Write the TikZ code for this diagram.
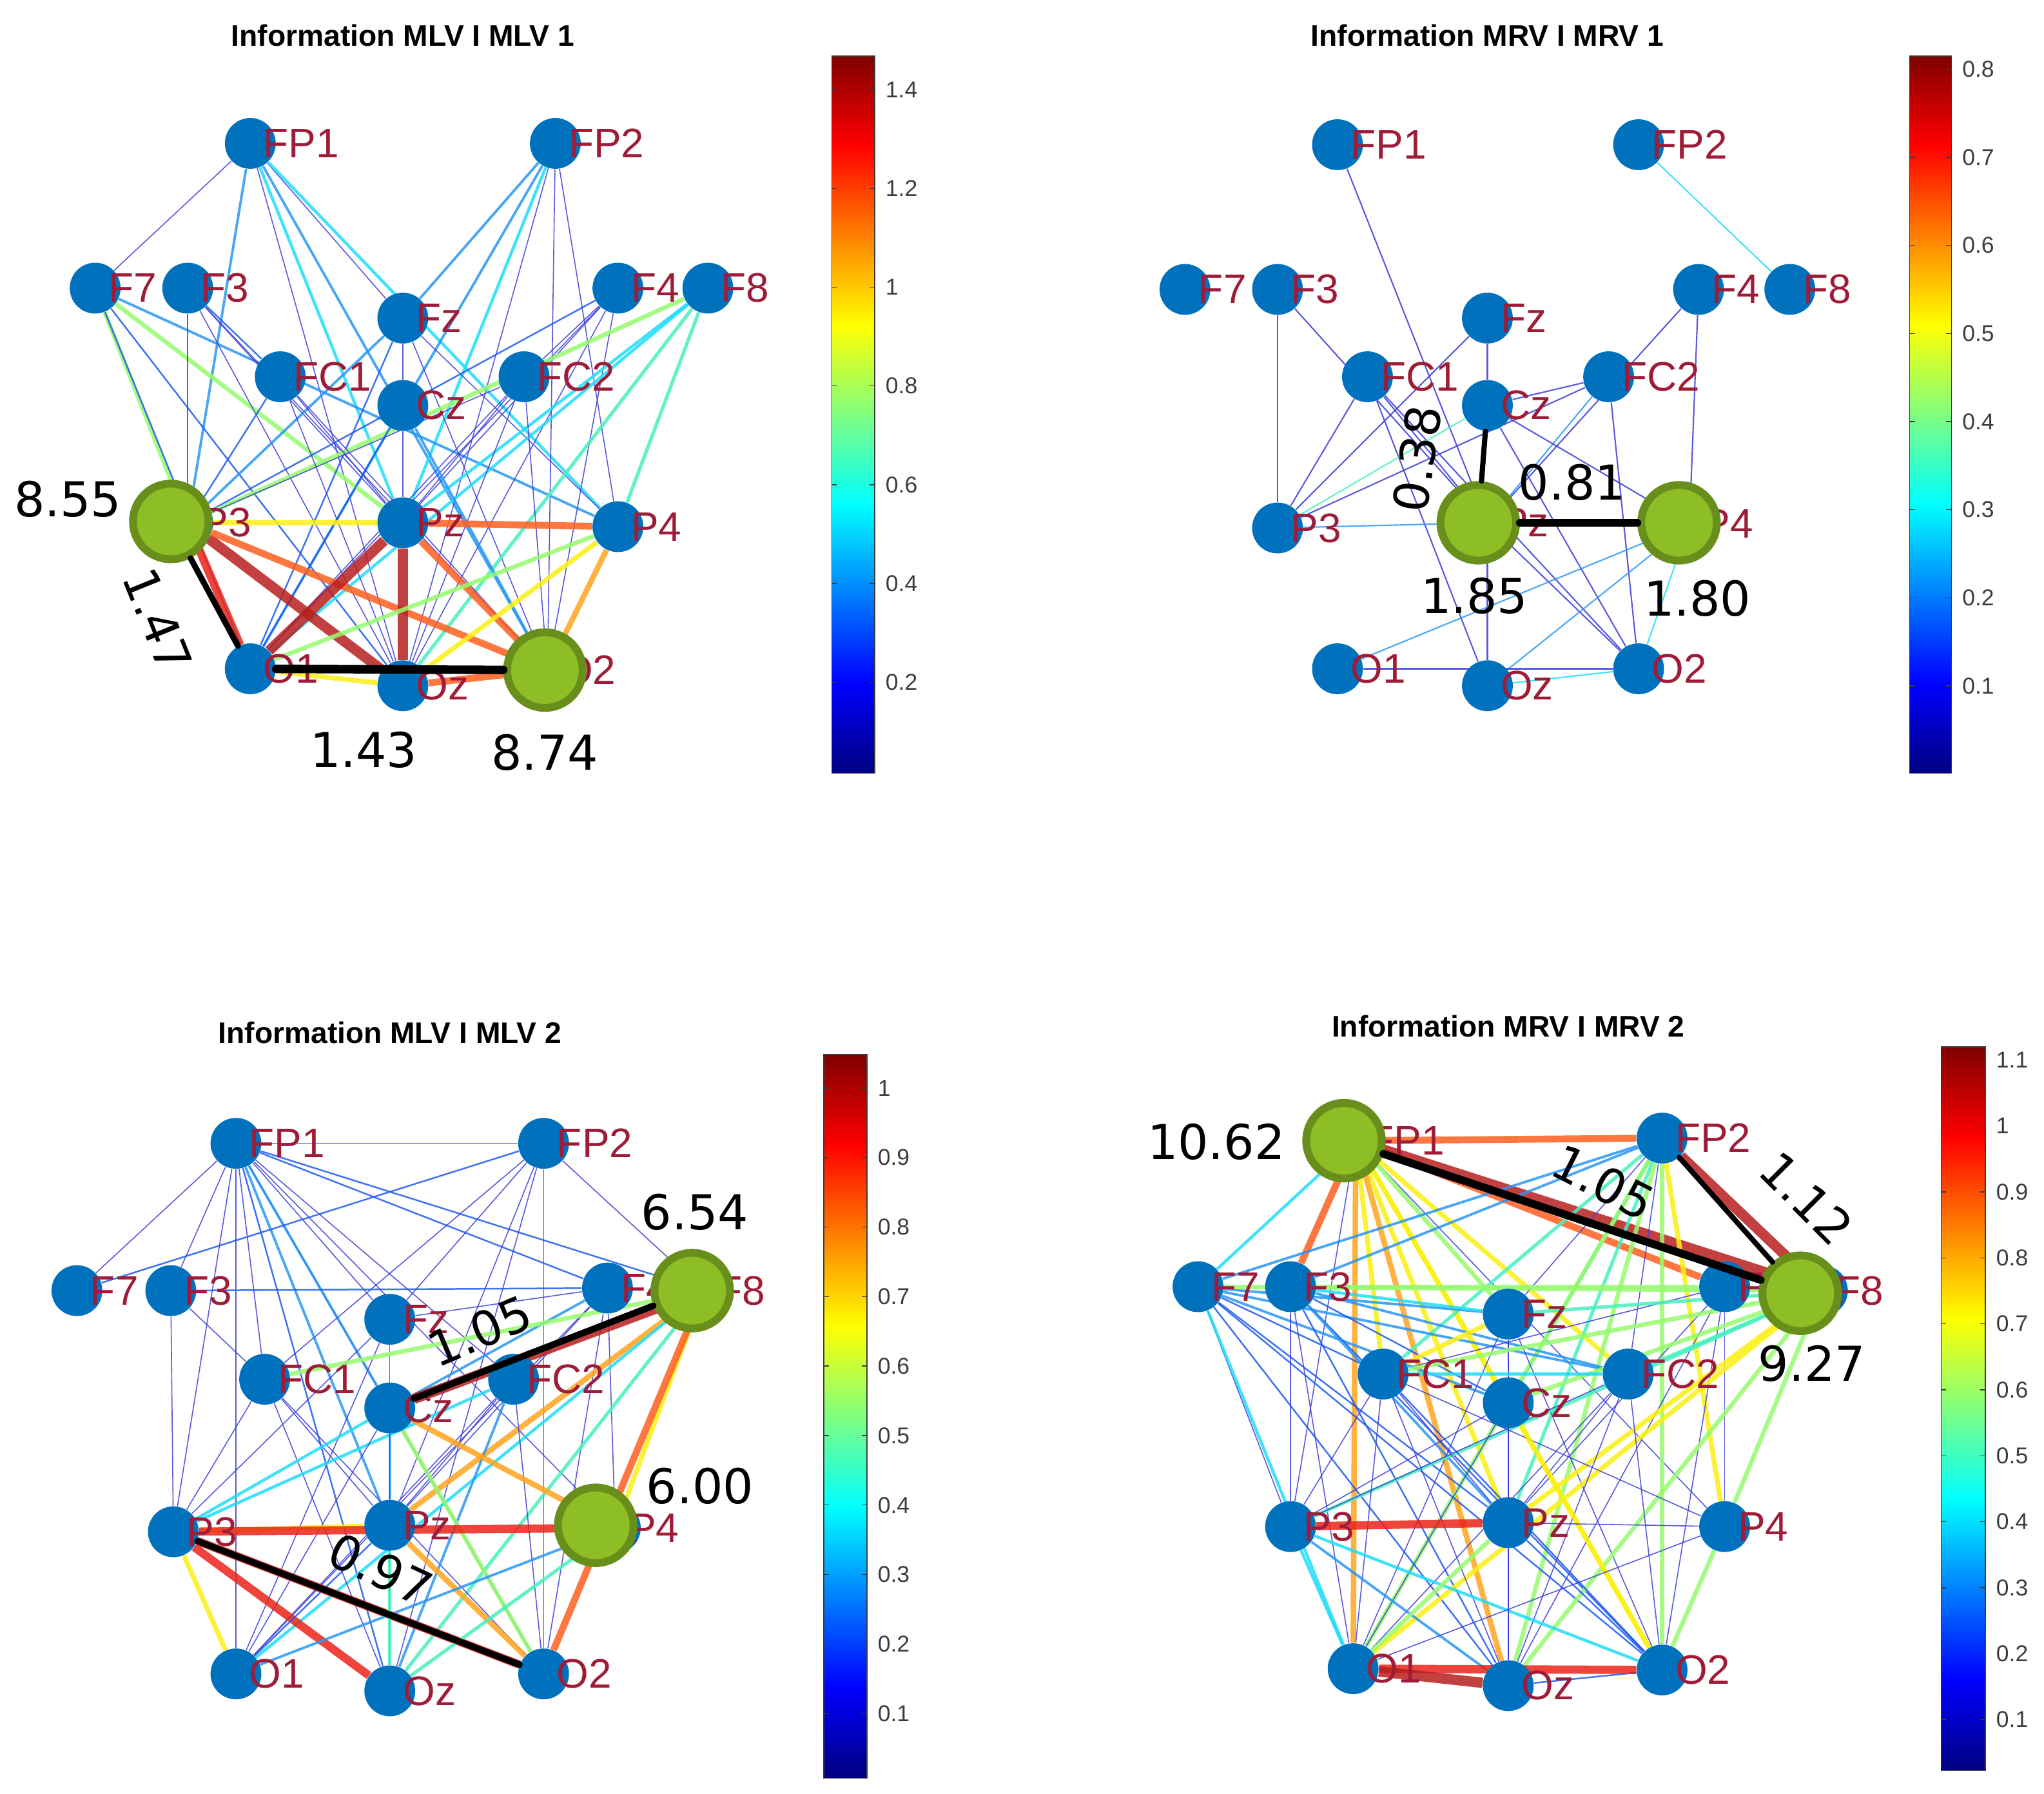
\documentclass[tikz,border=0pt]{standalone}
\usepackage{fontspec}
\setmainfont{Liberation Sans}
\newfontfamily\numfont{DejaVu Sans}
\usetikzlibrary{positioning}

\definecolor{nodeblue}{RGB}{0,114,189}
\definecolor{labred}{RGB}{158,28,56}
\definecolor{hlfill}{RGB}{141,190,37}
\definecolor{hlring}{RGB}{104,142,28}
\definecolor{tickgray}{RGB}{60,60,60}
\definecolor{cA}{RGB}{60,60,215}
\definecolor{cB}{RGB}{30,90,240}
\definecolor{cC}{RGB}{40,150,245}
\definecolor{cD}{RGB}{30,220,250}
\definecolor{cE}{RGB}{70,240,190}
\definecolor{cF}{RGB}{150,250,110}
\definecolor{cG}{RGB}{250,240,20}
\definecolor{cH}{RGB}{255,165,30}
\definecolor{cI}{RGB}{255,95,30}
\definecolor{cJ}{RGB}{235,35,25}
\definecolor{cK}{RGB}{185,30,30}
\pgfdeclareverticalshading{jet}{100bp}{rgb(0bp)=(0,0,0.5); rgb(25bp)=(0,0,0.5); rgb(31.25bp)=(0,0,1); rgb(43.75bp)=(0,1,1); rgb(56.25bp)=(1,1,0); rgb(68.75bp)=(1,0,0); rgb(75bp)=(0.5,0,0); rgb(100bp)=(0.5,0,0)}
\pgfdeclarelayer{edges}
\pgfsetlayers{edges,main}

\begin{document}
\begin{tikzpicture}[x=0.02cm, y=-0.02cm,
    elec/.style={circle, fill=nodeblue, inner sep=0pt, minimum size=0.78cm,
      label={[lab]0:#1}},
    lab/.style={text=labred, inner sep=0pt, xshift=-0.2cm, font=\fontsize{18}{18}\selectfont},
    hilite/.style={circle, fill=hlfill, draw=hlring, line width=0.12cm, inner sep=0pt, minimum size=1.16cm},
    strong/.style={draw=black, line width=#1, line cap=round},
    ttl/.style={font=\bfseries\fontsize{13}{13}\selectfont},
    val/.style={font=\numfont\fontsize{21}{21}\selectfont, inner sep=0pt},
    tck/.style={font=\fontsize{10}{10}\selectfont, text=tickgray, anchor=west, inner sep=0pt},
    cbar/.style={shading=jet, draw=tickgray, line width=0.4pt},
    eA/.style={draw=cA, line width=0.45pt},
    eB/.style={draw=cB, line width=0.7pt},
    eC/.style={draw=cC, line width=1.1pt},
    eD/.style={draw=cD, line width=1.3pt},
    eE/.style={draw=cE, line width=1.5pt},
    eF/.style={draw=cF, line width=1.9pt},
    eG/.style={draw=cG, line width=2.1pt},
    eH/.style={draw=cH, line width=2.4pt},
    eI/.style={draw=cI, line width=3pt},
    eJ/.style={draw=cJ, line width=3.6pt},
    eK/.style={draw=cK, line width=4.5pt}
  ]
\useasboundingbox (0,0) rectangle (1568,1376);

% MLV 1
\foreach \n/\x/\y in {FP1/192/110, FP2/426/110, F7/73/221, F3/144/221, Fz/309/244,
    F4/474/221, F8/543/221, FC1/215/289, FC2/402/289, Cz/309/311, P3/144/401,
    Pz/309/401, P4/474/404, O1/192/513, Oz/309/526, O2/420/514}
  \node[elec=\n] (a\n) at (\x,\y) {};
\begin{pgfonlayer}{edges}
\foreach \a/\b/\c in {FP1/F7/A, FP1/Fz/A, FP1/Oz/A, FP1/P3/C, FP1/Pz/D, FP1/O2/C, FP1/P4/D,
    FP2/Fz/C, FP2/Pz/D, FP2/O2/A, FP2/P4/A, FP2/Oz/A, FP2/O1/C,
    F7/P3/F, F7/Pz/F, F7/P4/C, F7/O1/B, F7/Oz/B,
    F3/P3/A, F3/FC1/B, F3/Pz/A, F3/Oz/A, F3/O2/A,
    Fz/Cz/A, Fz/P3/C, Fz/O1/B, Fz/O2/A, Fz/P4/A,
    F4/P3/B, F4/Pz/A, F4/O1/A, F4/Oz/A, F4/O2/A, F4/FC2/A,
    F8/P3/F, F8/Pz/D, F8/P4/E, F8/O1/D, F8/Oz/E,
    FC1/P3/B, FC1/Pz/A, FC1/O2/A, FC1/Oz/A,
    FC2/P3/A, FC2/O1/A, FC2/Pz/A, FC2/Oz/A, FC2/O2/A,
    Cz/Pz/A, Cz/O2/C, Cz/O1/B,
    P3/Pz/G, P3/Oz/K, P3/O2/I, P3/O1/J,
    Pz/P4/I, Pz/O1/K, Pz/Oz/K, Pz/O2/I,
    P4/O1/F, P4/Oz/G, P4/O2/H, O1/Oz/G, Oz/O2/I}
  \draw[e\c, draw opacity=0.85] (a\a) -- (a\b);
\end{pgfonlayer}
\node[hilite] (aP3h) at (131,400) {};
\node[hilite] (aO2h) at (418,514) {};
\draw[strong=0.09cm] (aP3h) -- (aO1);
\draw[strong=0.13cm] (aO1) -- (aO2h);
\node[val] (aV1) at (52,383) {8.55};
\node[val, rotate=-68] (aV2) at (121,476) {1.47};
\node[val] (aV3) at (279,575) {1.43};
\node[val] (aV4) at (418,577) {8.74};
\node[ttl] (aT) at (309,27) {Information MLV I MLV 1};
\shadedraw[cbar] (638,43) rectangle (671,593);
\foreach \v [count=\i] in {0.2,0.4,0.6,0.8,1,1.2,1.4} {
  \pgfmathsetmacro{\ty}{593-(\v-0.016)*550/1.452}
  \draw[tickgray, line width=0.4pt] (638,\ty) -- (642,\ty) (671,\ty) -- (667,\ty);
  \node[tck] (aK\i) at (679,\ty) {\v};
}

% MRV 1
\foreach \n/\x/\y in {FP1/1026/111, FP2/1257/111, F7/909/222, F3/980/222, Fz/1141/244,
    F4/1303/222, F8/1373/222, FC1/1049/289, FC2/1234/289, Cz/1141/311, P3/980/405,
    Pz/1141/401, P4/1296/402, O1/1026/513, Oz/1141/526, O2/1257/513}
  \node[elec=\n] (b\n) at (\x,\y) {};
\begin{pgfonlayer}{edges}
\foreach \a/\b/\c in {FP1/Pz/A, FP2/F8/D, F3/P3/A, F3/Pz/A, Fz/Cz/A, Fz/P3/A, F4/Pz/A, F4/P4/A,
    FC1/P3/A, FC1/Pz/A, FC1/O2/A, FC1/Oz/A, FC2/Cz/A, FC2/P3/A, FC2/Pz/C, FC2/O2/A,
    Cz/P3/E, Cz/O2/A, Cz/P4/A, P3/Pz/C, Pz/Oz/A, Pz/O2/A, Pz/P4/K,
    P4/O1/C, P4/Oz/C, P4/O2/D, O1/O2/A, Oz/O2/D}
  \draw[e\c, line width=0.6pt, draw opacity=0.85] (b\a) -- (b\b);
\end{pgfonlayer}
\node[hilite] (bPzh) at (1134,401) {};
\node[hilite] (bP4h) at (1288,401) {};
\draw[strong=0.08cm] (bCz) -- (bPzh);
\draw[strong=0.12cm] (bPzh) -- (bP4h);
\node[val, rotate=82] (bV1) at (1087,352) {0.38};
\node[val] (bV2) at (1206,370) {0.81};
\node[val] (bV3) at (1131,457) {1.85};
\node[val] (bV4) at (1302,459) {1.80};
\node[ttl] (bT) at (1141,27) {Information MRV I MRV 1};
\shadedraw[cbar] (1465,43) rectangle (1497,593);
\foreach \v [count=\i] in {0.1,0.2,0.3,0.4,0.5,0.6,0.7,0.8} {
  \pgfmathsetmacro{\ty}{593-(\v-0.001)*550/0.814}
  \draw[tickgray, line width=0.4pt] (1465,\ty) -- (1469,\ty) (1497,\ty) -- (1493,\ty);
  \node[tck] (bK\i) at (1505,\ty) {\v};
}

% MLV 2
\foreach \n/\x/\y in {FP1/181/877, FP2/417/877, F7/59/990, F3/131/990, Fz/299/1012,
    F4/466/988, F8/540/990, FC1/203/1058, FC2/394/1058, Cz/299/1080, P3/133/1175,
    Pz/299/1170, P4/472/1172, O1/181/1284, Oz/299/1297, O2/417/1284}
  \node[elec=\n] (c\n) at (\x,\y) {};
\begin{pgfonlayer}{edges}
\foreach \a/\b/\c in {FP1/FP2/A, FP1/F7/A, FP1/F3/A, FP1/P3/A, FP1/O1/A, FP1/Fz/A, FP1/FC1/A,
    FP1/FC2/A, FP1/O2/A, FP1/P4/A, FP1/F4/B, FP1/F8/B, FP1/Oz/B, FP1/Cz/C, FP1/Pz/C,
    FP2/F7/B, FP2/F8/A, FP2/Fz/A, FP2/FC1/A, FP2/O2/A, FP2/Pz/A, FP2/Oz/A,
    F3/F4/B, F3/P3/A, F3/FC1/A, Fz/F4/A, Fz/O1/A, Fz/Oz/A, Fz/P3/A,
    F4/O2/A, F4/P4/A, F4/Pz/A, F4/Cz/C, F4/O1/A,
    F8/FC1/F, F8/Oz/E, F8/P4/G, F8/O2/I, F8/Pz/H, F8/O1/D, F8/Cz/K,
    FC1/Pz/A, FC1/O2/A, FC1/Oz/A, FC1/P3/A,
    FC2/P3/D, FC2/O1/A, FC2/O2/A, FC2/Pz/A, FC2/Oz/C,
    Cz/P3/D, Cz/O2/F, Cz/P4/H, Cz/Pz/C, Cz/O1/A, Cz/Oz/A,
    P3/Pz/G, P3/P4/J, P3/O1/G, P3/Oz/J, P3/O2/J,
    Pz/O2/H, Pz/O1/B, Pz/Oz/E, P4/O1/C, P4/Oz/E}
  \draw[e\c, draw opacity=0.85] (c\a) -- (c\b);
\end{pgfonlayer}
\node[hilite] (cF8h) at (531,990) {};
\node[hilite] (cP4h) at (457,1170) {};
\draw[strong=0.1cm] (cCz) -- (cF8h);
\draw[strong=0.1cm] (cP3) -- (cO2);
\node[val] (cV1) at (533,930) {6.54};
\node[val, rotate=23] (cV2) at (368,1021) {1.05};
\node[val] (cV3) at (537,1140) {6.00};
\node[val, rotate=-25] (cV4) at (292,1204) {0.97};
\node[ttl] (cT) at (299,792) {Information MLV I MLV 2};
\shadedraw[cbar] (632,809) rectangle (665,1364);
\foreach \v [count=\i] in {0.1,0.2,0.3,0.4,0.5,0.6,0.7,0.8,0.9,1} {
  \pgfmathsetmacro{\ty}{1364-(\v-0.007)*555/1.041}
  \draw[tickgray, line width=0.4pt] (632,\ty) -- (636,\ty) (665,\ty) -- (661,\ty);
  \node[tck] (cK\i) at (673,\ty) {\v};
}

% MRV 2
\foreach \n/\x/\y in {FP1/1040/875, FP2/1275/873, F7/919/987, F3/990/987, Fz/1157/1008,
    F4/1323/987, F8/1398/990, FC1/1061/1054, FC2/1249/1054, Cz/1157/1076, P3/990/1171,
    Pz/1157/1168, P4/1323/1171, O1/1038/1280, Oz/1157/1293, O2/1275/1281}
  \node[elec=\n] (d\n) at (\x,\y) {};
\begin{pgfonlayer}{edges}
\foreach \a/\b/\c in {FP1/P3/A, FP1/P4/A, FP1/F7/D, FP1/Fz/F,
    FP1/FC1/G, FP1/Cz/G, FP1/Pz/G, FP1/FC2/G, FP1/O2/G, FP1/O1/H, FP1/Oz/H,
    FP1/FP2/I, FP1/F3/I, FP1/F4/I, FP1/F8/K,
    FP2/Fz/A, FP2/FC2/A, FP2/F7/C, FP2/F3/C, FP2/FC1/E, FP2/Cz/E, FP2/Pz/E,
    FP2/Oz/F, FP2/O1/F, FP2/O2/F, FP2/P4/G, FP2/F8/K,
    F7/P3/A, F7/FC1/B, F7/Pz/B, F7/Oz/B, F7/O2/B, F7/Fz/C, F7/FC2/C, F7/Cz/C, F7/O1/D, F7/F8/F,
    F3/O1/A, F3/P3/A, F3/Cz/B, F3/Oz/B, F3/O2/B, F3/FC2/C, F3/Pz/C, F3/Fz/D, F3/F4/F,
    Fz/Pz/A, Fz/Oz/A, Fz/O1/A, Fz/O2/A, Fz/FC1/G,
    F4/FC1/A, F4/Pz/A, F4/Oz/A, F4/O2/A, F4/P4/A,
    F8/Fz/E, F8/FC2/E, F8/P3/E, F8/FC1/F, F8/Cz/F, F8/Oz/F, F8/P4/F, F8/Pz/G, F8/O1/G,
    FC1/P3/A, FC1/Pz/A, FC1/Oz/A, FC1/O1/A, FC1/P4/A, FC1/O2/B, FC1/FC2/D,
    FC2/P3/A, FC2/Pz/A, FC2/O1/A, FC2/Oz/A, FC2/O2/A,
    Cz/P3/A, Cz/O1/A, Cz/Oz/A, Cz/Pz/A, Cz/O2/G,
    P3/Oz/C, P3/O1/D, P3/O2/D, P3/Pz/J,
    Pz/Oz/A, Pz/P4/A, Pz/O2/B, Pz/O1/F,
    P4/O1/A, P4/O2/F, Oz/O2/B, O1/O2/J, O1/Oz/K}
  \draw[e\c, draw opacity=0.85] (d\a) -- (d\b);
\end{pgfonlayer}
\node[hilite] (dFP1h) at (1031,875) {};
\node[hilite] (dF8h) at (1381,992) {};
\draw[strong=0.12cm] (dFP1h) -- (dF8h);
\draw[strong=0.08cm] (dFP2) -- (dF8h);
\node[val] (dV1) at (933,876) {10.62};
\node[val, rotate=-27] (dV2) at (1230,907) {1.05};
\node[val, rotate=-45] (dV3) at (1386,919) {1.12};
\node[val] (dV4) at (1390,1046) {9.27};
\node[ttl] (dT) at (1157,787) {Information MRV I MRV 2};
\shadedraw[cbar] (1489,803) rectangle (1523,1358);
\foreach \v [count=\i] in {0.1,0.2,0.3,0.4,0.5,0.6,0.7,0.8,0.9,1,1.1} {
  \pgfmathsetmacro{\ty}{1358-(\v-0.023)*555/1.097}
  \draw[tickgray, line width=0.4pt] (1489,\ty) -- (1493,\ty) (1523,\ty) -- (1519,\ty);
  \node[tck] (dK\i) at (1531,\ty) {\v};
}
\end{tikzpicture}
\end{document}
